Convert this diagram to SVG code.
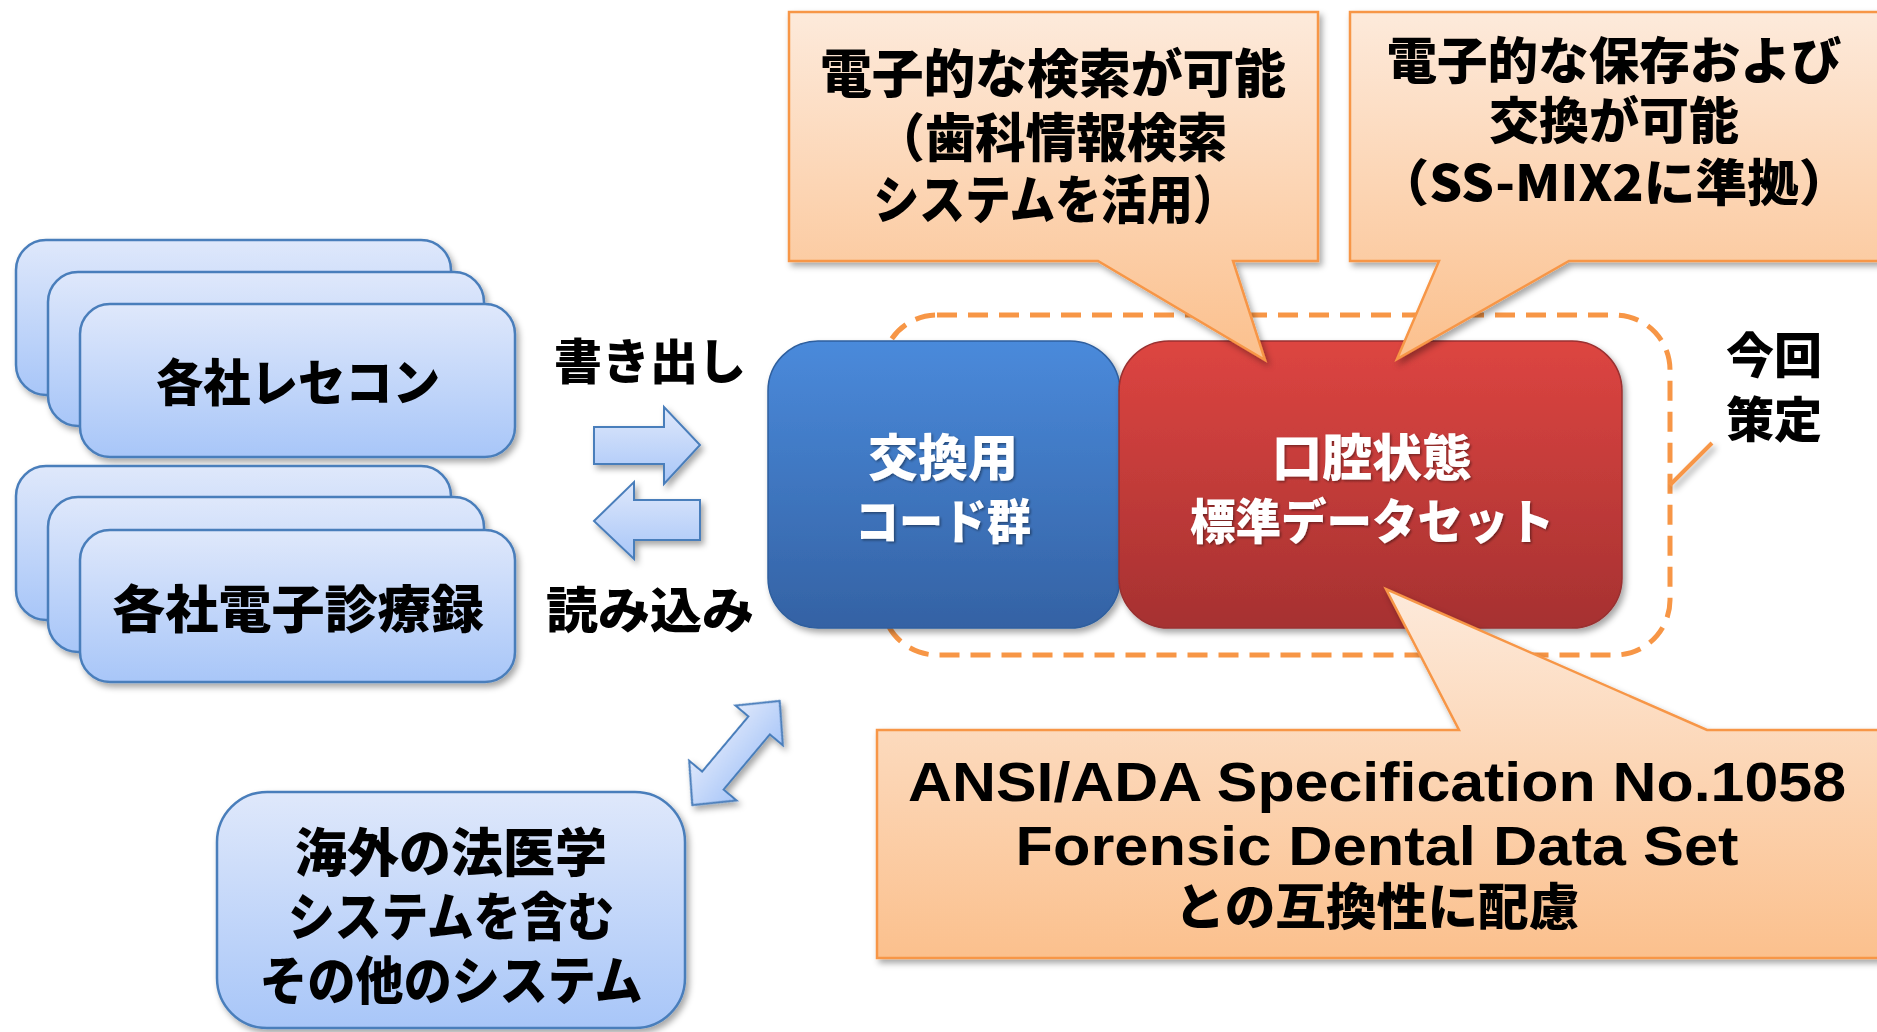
<svg xmlns="http://www.w3.org/2000/svg" width="1877" height="1032" viewBox="0 0 1877 1032">
<defs>
<linearGradient id="lb" x1="0" y1="0" x2="0" y2="1"><stop offset="0" stop-color="#DFE8FB"/><stop offset="1" stop-color="#A8C6F8"/></linearGradient>
<linearGradient id="bl" x1="0" y1="0" x2="0" y2="1"><stop offset="0" stop-color="#4A8ADB"/><stop offset="1" stop-color="#3462A4"/></linearGradient>
<linearGradient id="rd" x1="0" y1="0" x2="0" y2="1"><stop offset="0" stop-color="#DD4541"/><stop offset="1" stop-color="#A63131"/></linearGradient>
<linearGradient id="or" x1="0" y1="0" x2="0" y2="1"><stop offset="0" stop-color="#FDEADB"/><stop offset="1" stop-color="#FBC08D"/></linearGradient>
<filter id="sh" x="-10%" y="-10%" width="130%" height="130%"><feDropShadow dx="3" dy="4" stdDeviation="3" flood-color="#000" flood-opacity="0.35"/></filter>
<filter id="ts" x="-5%" y="-20%" width="110%" height="140%"><feDropShadow dx="1.5" dy="1.5" stdDeviation="1" flood-color="#000" flood-opacity="0.4"/></filter>
</defs>
<style>
.lbox{fill:url(#lb);stroke:#4A7EBB;stroke-width:2.5}
.arr{fill:url(#lb);stroke:#4A7EBB;stroke-width:2}
.call{fill:url(#or);stroke:#F79646;stroke-width:2.5}
.t{font-family:'Noto Sans CJK JP',sans-serif;font-weight:900;fill:#000;text-anchor:middle}
.w{fill:#fff}
.lat{font-family:'Liberation Sans','Noto Sans CJK JP',sans-serif;font-weight:700;fill:#000;text-anchor:middle}
</style>

<g id="dashed-group">
<rect x="882" y="315" width="788" height="340" rx="55" fill="none" stroke="#F79646" stroke-width="5" stroke-dasharray="20,11"/>
</g>

<g id="rececon" filter="url(#sh)">
<rect class="lbox" x="16" y="240" width="435" height="155" rx="30"/>
<rect class="lbox" x="48" y="272" width="436" height="154" rx="30"/>
<rect class="lbox" x="80" y="304" width="435" height="153" rx="30"/>
</g>
<text class="t" x="298" y="401" font-size="50" textLength="284" lengthAdjust="spacingAndGlyphs">各社レセコン</text>

<g id="emr" filter="url(#sh)">
<rect class="lbox" x="16" y="466" width="435" height="154" rx="30"/>
<rect class="lbox" x="48" y="497" width="436" height="155" rx="30"/>
<rect class="lbox" x="80" y="530" width="435" height="152" rx="30"/>
</g>
<text class="t" x="298" y="628" font-size="51" textLength="372" lengthAdjust="spacingAndGlyphs">各社電子診療録</text>

<g id="connectors" filter="url(#sh)">
<path class="arr" d="M594,427 H664 V407 L700,445 L664,484 V464 H594 Z"/>
<path class="arr" d="M594,521 L634,482 V500 H700 V540 H634 V559 Z"/>
<path class="arr" transform="translate(736,753) rotate(-50)" d="M-68,0 L-36,-31 L-36,-14 L36,-14 L36,-31 L68,0 L36,31 L36,14 L-36,14 L-36,31 Z"/>
<line x1="1670" y1="485" x2="1712" y2="443" stroke="#F79646" stroke-width="4"/>
</g>
<g id="labels">
<text class="t" x="650" y="379" font-size="48">書き出し</text>
<text class="t" x="650" y="628" font-size="49" textLength="208" lengthAdjust="spacingAndGlyphs">読み込み</text>
</g>

<g id="code">
<rect x="768" y="341" width="352" height="287" rx="50" fill="url(#bl)" stroke="#2F5F9E" stroke-width="1.5" filter="url(#sh)"/>
<g filter="url(#ts)">
<text class="t w" x="943" y="476" font-size="50">交換用</text>
<text class="t w" x="943" y="539" font-size="48" textLength="176" lengthAdjust="spacingAndGlyphs">コード群</text>
</g>
</g>

<g id="dataset">
<rect x="1119" y="341" width="503" height="287" rx="50" fill="url(#rd)" stroke="#993030" stroke-width="1.5" filter="url(#sh)"/>
<g filter="url(#ts)">
<text class="t w" x="1372" y="476" font-size="50">口腔状態</text>
<text class="t w" x="1372" y="539" font-size="48" textLength="364" lengthAdjust="spacingAndGlyphs">標準データセット</text>
</g>
</g>

<g id="kon">
<text class="t" x="1774" y="373" font-size="48">今回</text>
<text class="t" x="1774" y="437" font-size="48">策定</text>
</g>

<g id="callout-search">
<path class="call" filter="url(#sh)" d="M789,12 H1318 V261 H1233 L1265,360 L1098,261 H789 Z"/>
<text class="t" x="1053" y="93" font-size="52" textLength="466" lengthAdjust="spacingAndGlyphs">電子的な検索が可能</text>
<text class="t" x="1051" y="157" font-size="52" textLength="353" lengthAdjust="spacingAndGlyphs">（歯科情報検索</text>
<text class="t" x="1056" y="219" font-size="52" textLength="365" lengthAdjust="spacingAndGlyphs">システムを活用）</text>
</g>

<g id="callout-storage">
<path class="call" filter="url(#sh)" d="M1350,12 H1890 V261 H1569 L1397,359 L1439,261 H1350 Z"/>
<text class="t" x="1614" y="79" font-size="50" textLength="455" lengthAdjust="spacingAndGlyphs">電子的な保存および</text>
<text class="t" x="1614" y="139" font-size="50">交換が可能</text>
<text class="t" x="1614" y="201" font-size="50" textLength="473" lengthAdjust="spacingAndGlyphs">（SS-MIX2に準拠）</text>
</g>

<g id="callout-ansi">
<path class="call" filter="url(#sh)" d="M877,730 H1459 L1386,589 L1707,730 H1890 V958 H877 Z"/>
<text class="lat" x="1377" y="801" font-size="56" textLength="938" lengthAdjust="spacingAndGlyphs">ANSI/ADA Specification No.1058</text>
<text class="lat" x="1377" y="865" font-size="56" textLength="723" lengthAdjust="spacingAndGlyphs">Forensic Dental Data Set</text>
<text class="t" x="1377" y="925" font-size="50" textLength="405" lengthAdjust="spacingAndGlyphs">との互換性に配慮</text>
</g>

<g id="other-systems">
<rect class="lbox" x="217" y="792" width="468" height="236" rx="50" filter="url(#sh)"/>
<text class="t" x="451" y="872" font-size="52">海外の法医学</text>
<text class="t" x="451" y="936" font-size="52" textLength="326" lengthAdjust="spacingAndGlyphs">システムを含む</text>
<text class="t" x="451" y="1000" font-size="52" textLength="383" lengthAdjust="spacingAndGlyphs">その他のシステム</text>
</g>
</svg>
